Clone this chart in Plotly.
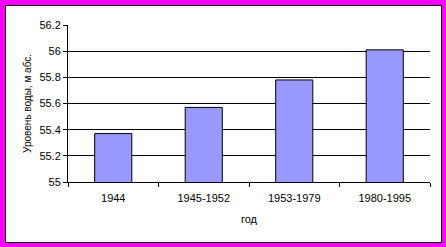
import plotly.graph_objects as go

categories = ["1944", "1945-1952", "1953-1979", "1980-1995"]
values = [55.37, 55.57, 55.78, 56.01]
y_ticks = [55, 55.2, 55.4, 55.6, 55.8, 56, 56.2]
y_tick_text = ["55", "55.2", "55.4", "55.6", "55.8", "56", "56.2"]
grid_vals = [55.2, 55.4, 55.6, 55.8, 56]

W, H = 446, 247
ml, mr, mt, mb = 68, 16, 25, 65
pw, ph = W - ml - mr, H - mt - mb

fig = go.Figure()
fig.add_trace(go.Bar(x=categories, y=values, marker=dict(color="#9999FF", line=dict(color="black", width=1)),
                     yaxis="y"))
fig.add_trace(go.Scatter(x=categories, y=[None] * 4, yaxis="y2", showlegend=False, hoverinfo="skip"))

font = dict(family="Liberation Sans, Arial, sans-serif", size=11, color="black")
title_font_y = dict(family="Liberation Sans, Arial, sans-serif", size=10, color="black")
fig.update_layout(
    width=W, height=H,
    margin=dict(l=ml, r=mr, t=mt, b=mb, pad=0),
    paper_bgcolor="#FF00FF",
    plot_bgcolor="white",
    showlegend=False,
    bargap=0.59,
    font=font,
    xaxis=dict(type="category", showline=True, linecolor="black", linewidth=1,
               ticks="outside", ticklen=4, tickcolor="black", tickson="boundaries",
               ticklabelstandoff=6,
               showgrid=False, title=dict(text="год", font=font, standoff=12),
               tickfont=font),
    yaxis=dict(range=[55, 56.2], tickmode="array", tickvals=grid_vals, showticklabels=False,
               ticks="", showgrid=True, gridcolor="black", gridwidth=1, zeroline=False,
               showline=False),
    yaxis2=dict(range=[55, 56.2], overlaying="y", side="left", tickmode="array",
                tickvals=y_ticks, ticktext=y_tick_text, showgrid=False, zeroline=False,
                showline=True, linecolor="black", linewidth=1, ticks="outside", ticklen=4,
                tickcolor="black", tickfont=font,
                title=dict(text="Уровень воды, м абс.", font=title_font_y, standoff=5)),
    shapes=[dict(type="rect", xref="paper", yref="paper",
                 x0=(5.5 - ml) / pw, x1=(441.5 - ml) / pw,
                 y0=(H - mb - 242.5) / ph, y1=(H - mb - 5.5) / ph,
                 fillcolor="white", line=dict(color="black", width=1), layer="below")],
)
fig.write_html("out.html")
